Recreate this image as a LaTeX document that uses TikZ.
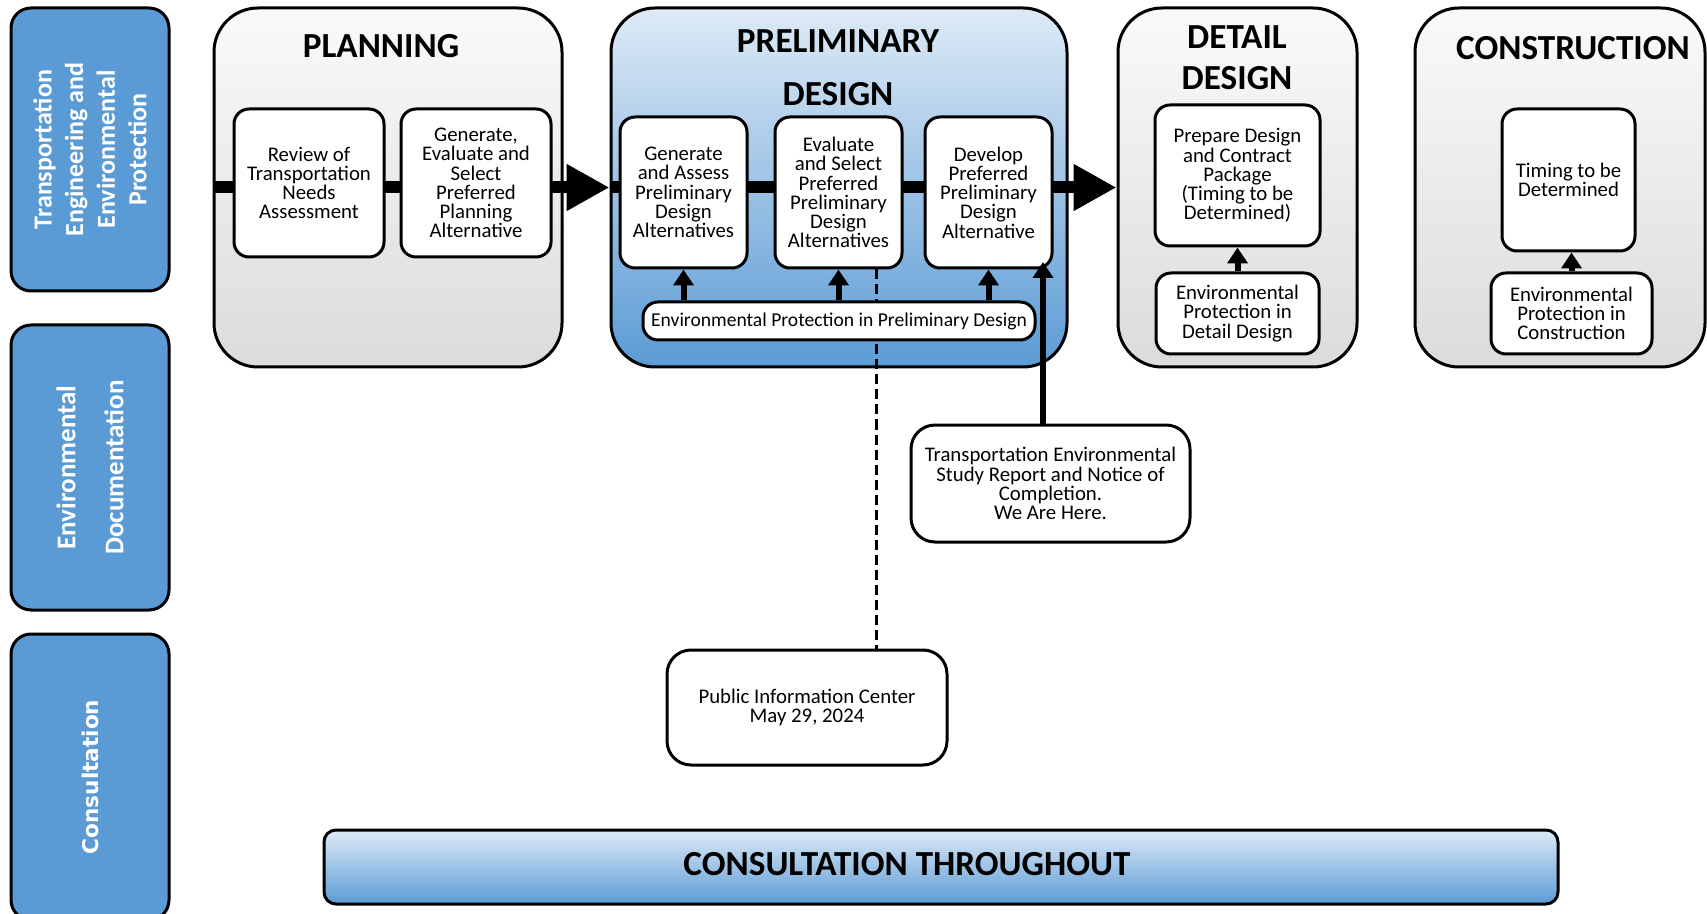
\documentclass[tikz,border=0pt]{standalone}
\usepackage{fontspec}
\setmainfont{Carlito}
\newfontfamily\lanefont{DejaVu Sans}
\usetikzlibrary{arrows.meta}
\definecolor{laneblue}{RGB}{91,155,213}
\definecolor{paleblue}{RGB}{222,234,246}

\begin{document}
\begin{tikzpicture}[x=0.5pt,y=-0.5pt,line join=round,
  lane/.style={draw,line width=1.5pt,fill=laneblue,rounded corners=10pt,text=white,
    font=\bfseries\fontsize{13pt}{15.8pt}\selectfont,align=center,rotate=90,inner sep=0pt},
  phase/.style={draw,line width=1.5pt,rounded corners=22pt,top color=gray!4,bottom color=gray!28,
    minimum height=179.5pt,inner sep=0pt},
  title/.style={font=\bfseries\fontsize{17.6pt}{20pt}\selectfont,align=center,inner sep=0pt},
  task/.style={draw,line width=1.5pt,fill=white,rounded corners=7.5pt,align=center,inner sep=0pt,
    font=\fontsize{10.4pt}{9.6pt}\selectfont},
  flow/.style={line width=6pt,-{Triangle[length=21.5pt,width=22pt]}},
  feed/.style={line width=3pt,-{Triangle[length=8pt,width=10pt]}}]
  \useasboundingbox (0,0) rectangle (1707,914);

  % lanes
  \node[lane,minimum width=141.5pt,minimum height=79pt] (teep) at (90,149.5)
    {Transportation\\Engineering and\\Environmental\\Protection};
  \node[lane,minimum width=142.5pt,minimum height=79pt,
    font=\bfseries\fontsize{13.5pt}{24pt}\selectfont] (envdoc) at (90,467.5)
    {Environmental\\Documentation};
  \node[lane,minimum width=143pt,minimum height=79pt,
    font=\lanefont\bfseries\fontsize{10.8pt}{13pt}\selectfont] (consult) at (90,777)
    {Consultation};

  % phases
  \node[phase,minimum width=174pt] (plan) at (388,187.5) {};
  \node[phase,minimum width=228pt,top color=paleblue,bottom color=laneblue] (prelim) at (839,187.5) {};
  \node[phase,minimum width=119.5pt] (detail) at (1237.5,187.5) {};
  \node[phase,minimum width=145pt] (constr) at (1560,187.5) {};

  \node[title] (plantitle) at (381,46) {PLANNING};
  \node[title,font=\bfseries\fontsize{17.6pt}{26.5pt}\selectfont] (prelimtitle) at (838,68)
    {PRELIMINARY\\DESIGN};
  \node[title,font=\bfseries\fontsize{17.6pt}{20.5pt}\selectfont] (detailtitle) at (1237,58)
    {DETAIL\\DESIGN};
  \node[title] (constrtitle) at (1573,48) {CONSTRUCTION};

  % main flow
  \draw[flow] (plan.west) -- (prelim.west);
  \draw[flow] (prelim.west) -- (detail.west);

  % tasks
  \node[task,minimum width=75pt,minimum height=74pt] (review) at (309,183)
    {Review of\\Transportation\\Needs\\Assessment};
  \node[task,minimum width=75pt,minimum height=74pt] (genplan) at (476,183)
    {Generate,\\Evaluate and\\Select\\Preferred\\Planning\\Alternative};
  \node[task,minimum width=63.5pt,minimum height=75.5pt] (genprelim) at (683.5,192.5)
    {Generate\\and Assess\\Preliminary\\Design\\Alternatives};
  \node[task,minimum width=63.5pt,minimum height=75.5pt] (evalprelim) at (838.5,192.5)
    {Evaluate\\and Select\\Preferred\\Preliminary\\Design\\Alternatives};
  \node[task,minimum width=63.5pt,minimum height=75.5pt] (devprelim) at (988.5,192.5)
    {Develop\\Preferred\\Preliminary\\Design\\Alternative};
  \node[task,minimum width=82.5pt,minimum height=70.5pt] (prepare) at (1237.5,175.5)
    {Prepare Design\\and Contract\\Package\\(Timing to be\\Determined)};
  \node[task,minimum width=81.5pt,minimum height=40.5pt] (envdetail) at (1237.5,313.5)
    {Environmental\\Protection in\\Detail Design};
  \node[task,minimum width=66.5pt,minimum height=71pt] (timing) at (1568.5,180)
    {Timing to be\\Determined};
  \node[task,minimum width=80.5pt,minimum height=40.5pt] (envconstr) at (1571.5,313.5)
    {Environmental\\Protection in\\Construction};

  % documentation and consultation
  \node[task,minimum width=139.5pt,minimum height=58.5pt,rounded corners=12pt] (report) at (1050.5,483.5)
    {Transportation Environmental\\Study Report and Notice of\\Completion.\\We Are Here.};
  \node[task,minimum width=140pt,minimum height=57.5pt,rounded corners=12pt] (pic) at (807,707.5)
    {Public Information Center\\May 29, 2024};
  \node[task,minimum width=617pt,minimum height=37pt,rounded corners=6pt,
    top color=paleblue,bottom color=laneblue] (throughout) at (941,867) {};
  \node[title] (throughouttext) at (907,864) {CONSULTATION THROUGHOUT};

  \coordinate (dashx) at (876,0);
  \coordinate (reportin) at (1043,262);
  \draw[line width=1.5pt,dash pattern=on 5pt off 2.5pt] (evalprelim.south -| dashx) -- (pic.north -| dashx);

  \node[task,minimum width=196pt,minimum height=19pt,font=\fontsize{9.8pt}{9.5pt}\selectfont]
    (envprelim) at (839,321) {Environmental Protection in Preliminary Design};

  % environmental protection feeds
  \draw[feed] (envprelim.north -| genprelim) -- (genprelim.south);
  \draw[feed] (envprelim.north -| evalprelim) -- (evalprelim.south);
  \draw[feed] (envprelim.north -| devprelim) -- (devprelim.south);
  \draw[feed] (envdetail.north) -- (prepare.south);
  \draw[feed] (envconstr.north) -- (envconstr.north |- timing.south);
  \draw[feed] (report.north -| reportin) -- (reportin);
\end{tikzpicture}
\end{document}
